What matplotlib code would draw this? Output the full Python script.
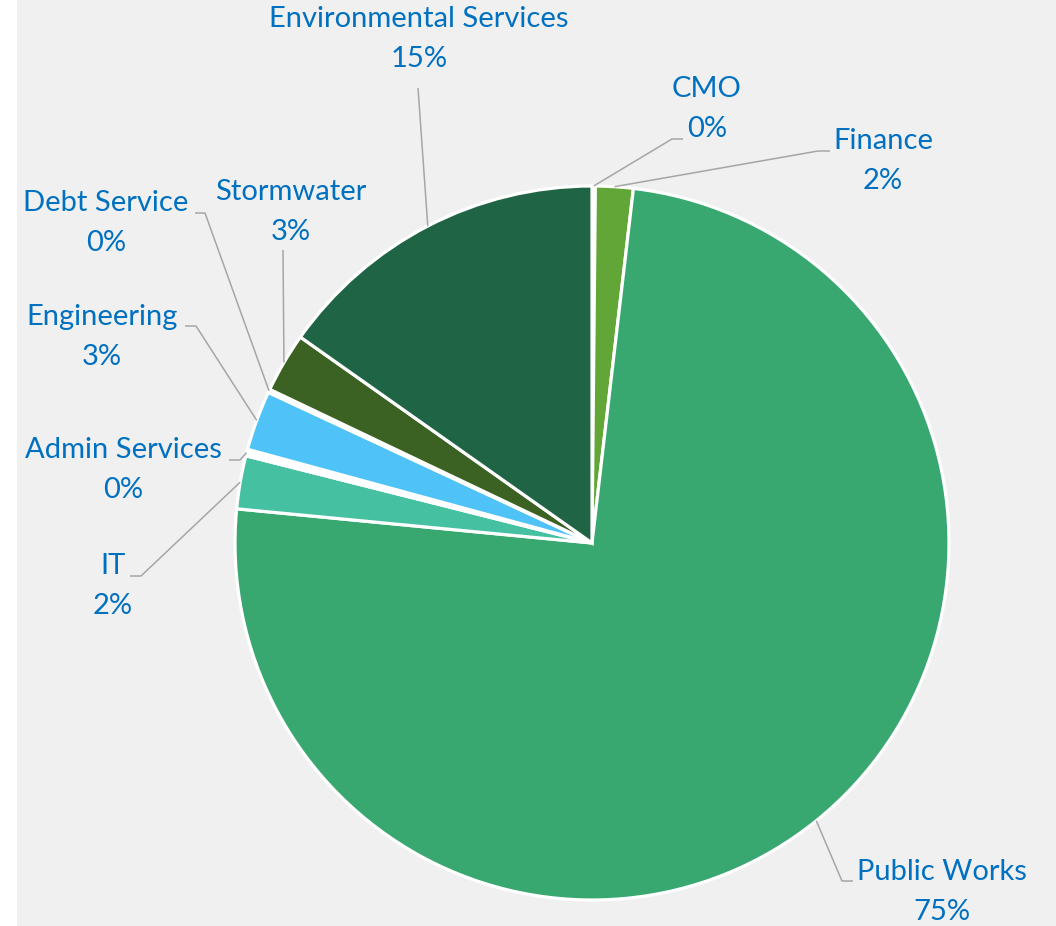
import numpy as np
import matplotlib.pyplot as plt
from matplotlib.patches import Rectangle

W, H = 1056, 926

labels = ['CMO', 'Finance', 'Public Works', 'IT', 'Admin Services',
          'Engineering', 'Debt Service', 'Stormwater', 'Environmental Services']
values = [0.15, 1.7, 74.6, 2.4, 0.3, 2.7, 0.15, 2.7, 15.2]
pct_labels = ['0%', '2%', '75%', '2%', '0%', '3%', '0%', '3%', '15%']
# the near-zero slices only show up as white gaps in the original
colors = ['#FFFFFF', '#62A637', '#38A870', '#45C1A1', '#FFFFFF',
          '#4FC3F7', '#FFFFFF', '#3B6222', '#206446']

# layout in image pixels (y down): label centre, leader tail points
label_pos = {
    'CMO': (707, 109),
    'Finance': (883, 161),
    'Public Works': (942, 892),
    'IT': (113, 586),
    'Admin Services': (123, 470),
    'Engineering': (102, 337),
    'Debt Service': (106, 223),
    'Stormwater': (291, 212),
    'Environmental Services': (419, 39),
}
leader_tail = {
    'CMO': [(672, 139), (683, 139)],
    'Finance': [(818, 151), (830, 151)],
    'Public Works': [(842, 881), (853, 881)],
    'IT': [(141, 576), (130, 576)],
    'Admin Services': [(240, 460), (229, 460)],
    'Engineering': [(196, 326), (185, 326)],
    'Debt Service': [(205, 213), (195, 213)],
    'Stormwater': [(283, 250)],
    'Environmental Services': [(418, 88)],
}

cx, cy, r = 592, 543, 357

fig = plt.figure(figsize=(W / 100, H / 100), dpi=100)
ax = fig.add_axes([0, 0, 1, 1])
ax.add_patch(Rectangle((17, 0), W - 17, H, facecolor='#F0F0F0',
                       edgecolor='none', zorder=0))

wedges, _ = ax.pie(values, colors=colors, startangle=90, counterclock=False,
                   center=(cx, H - cy), radius=r,
                   wedgeprops=dict(edgecolor='white', linewidth=2.3))
ax.set_xlim(0, W)
ax.set_ylim(0, H)
ax.set_aspect('equal')
ax.axis('off')

font = ['Lato', 'DejaVu Sans']
for w, name, pct in zip(wedges, labels, pct_labels):
    mid = np.deg2rad((w.theta1 + w.theta2) / 2)
    ax_pt = (cx + r * np.cos(mid), H - cy + r * np.sin(mid))
    pts = [ax_pt] + [(x, H - y) for x, y in leader_tail[name]]
    xs, ys = zip(*pts)
    ax.plot(xs, ys, color='#A6A6A6', lw=1.1, solid_capstyle='butt')
    tx, ty = label_pos[name]
    ax.text(tx, H - ty, name + '\n' + pct, ha='center', va='center',
            color='#0070C0', fontsize=21, family=font, linespacing=1.62)

fig.savefig('out.png', dpi=100)
